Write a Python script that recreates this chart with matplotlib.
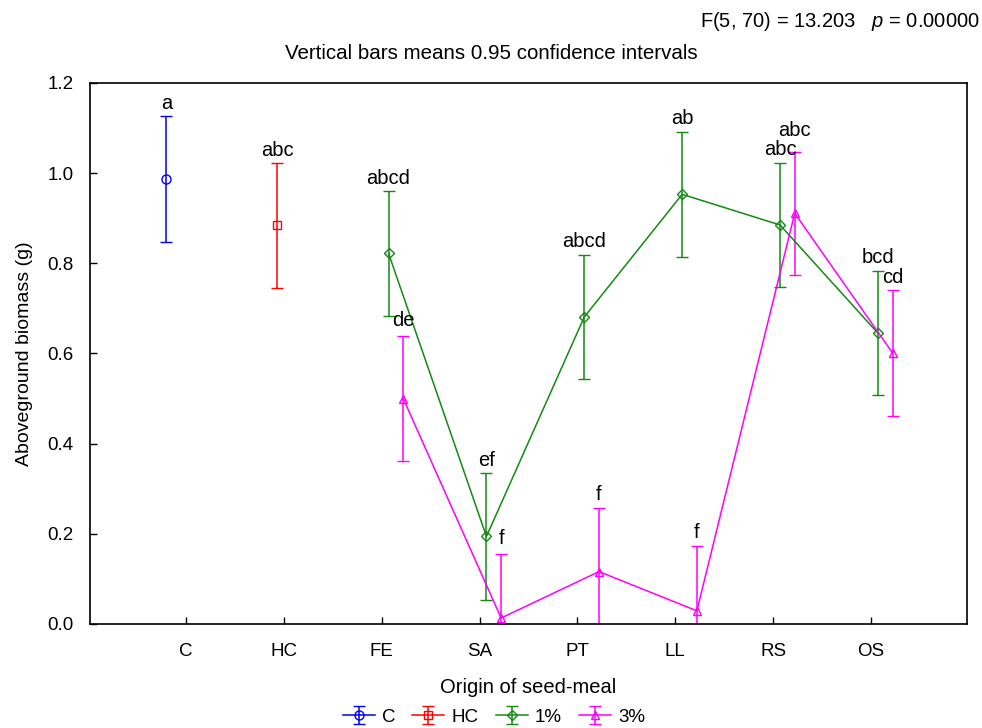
import matplotlib
matplotlib.use("Agg")
import matplotlib.pyplot as plt
import numpy as np

plt.rcParams['font.family'] = ['Liberation Sans', 'DejaVu Sans']
plt.rcParams['mathtext.fontset'] = 'custom'
plt.rcParams['mathtext.it'] = 'Liberation Sans:italic'
plt.rcParams['mathtext.rm'] = 'Liberation Sans'

# categories on the x axis
categories = ['C', 'HC', 'FE', 'SA', 'PT', 'LL', 'RS', 'OS']

# controls (single points)
c_mean, c_ci = [0.987], [0.139]
hc_mean, hc_ci = [0.884], [0.138]

# seed-meal treatments (FE..OS)
pct1_mean = [0.822, 0.194, 0.681, 0.953, 0.885, 0.645]
pct1_ci = [0.138, 0.140, 0.138, 0.139, 0.138, 0.138]
pct3_mean = [0.500, 0.013, 0.116, 0.029, 0.911, 0.601]
pct3_ci = [0.138, 0.142, 0.142, 0.144, 0.137, 0.139]

# letters of homogeneous groups
c_letters = ['a']
hc_letters = ['abc']
pct1_letters = ['abcd', 'ef', 'abcd', 'ab', 'abc', 'bcd']
pct3_letters = ['de', 'f', 'f', 'f', 'abc', 'cd']

fig = plt.figure(figsize=(9.82, 7.28), dpi=100)
ax = fig.add_axes([0.0917, 0.143, 0.893, 0.743])

x = np.arange(1, len(categories) + 1)
x_c = x[:1] - 0.20
x_hc = x[1:2] - 0.07
x_1 = x[2:] + 0.07
x_3 = x[2:] + 0.22

common = dict(capsize=4, elinewidth=1.1, linewidth=1.1, capthick=1.1,
              markerfacecolor='none', markeredgewidth=1.0)
eb_c = ax.errorbar(x_c, c_mean, yerr=c_ci, color='#0000ff', marker='o',
                   markersize=6.5, label='C', **common)
eb_hc = ax.errorbar(x_hc, hc_mean, yerr=hc_ci, color='#ff0000', marker='s',
                    markersize=6, label='HC', **common)
eb_1 = ax.errorbar(x_1, pct1_mean, yerr=pct1_ci, color='#138a13', marker='D',
                   markersize=5, label='1%', **common)
eb_3 = ax.errorbar(x_3, pct3_mean, yerr=pct3_ci, color='#ff00ff', marker='^',
                   markersize=6, label='3%', **common)

# group letters above upper CI (extra lift in points where the original sits higher)
def add_letters(xs, means, cis, letters, lifts=None):
    if lifts is None:
        lifts = [0] * len(letters)
    for xi, m, c, t, dy in zip(xs, means, cis, letters, lifts):
        ax.annotate(t, xy=(xi, m + c), xytext=(0, 2.5 + dy), textcoords='offset points',
                    ha='center', va='bottom', fontsize=14.5, annotation_clip=False)

add_letters(x_c, c_mean, c_ci, c_letters)
add_letters(x_hc, hc_mean, hc_ci, hc_letters)
add_letters(x_1, pct1_mean, pct1_ci, pct1_letters)
add_letters(x_3, pct3_mean, pct3_ci, pct3_letters, lifts=[2, 2, 0, 0, 6, 0])

ax.set_xlim(0.02, 8.98)
ax.set_ylim(0, 1.2)
ax.set_xticks(x)
ax.set_xticklabels(categories)
ax.set_yticks(np.arange(0, 1.21, 0.2))
ax.set_yticklabels([f'{v:.1f}' for v in np.arange(0, 1.21, 0.2)])
ax.tick_params(direction='in', length=5, width=1, labelsize=13.5, top=False, right=False)
ax.tick_params(axis='x', pad=14)
ax.tick_params(axis='y', pad=12)
for s in ax.spines.values():
    s.set_linewidth(1.2)

ax.set_xlabel('Origin of seed-meal', fontsize=14.5, labelpad=13)
ax.set_ylabel('Aboveground biomass (g)', fontsize=14, labelpad=10)

fig.text(0.5, 0.927, 'Vertical bars means 0.95 confidence intervals',
         ha='center', va='center', fontsize=14.8)
fig.text(0.998, 0.97, 'F(5, 70) = 13.203   $p$ = 0.00000',
         ha='right', va='center', fontsize=14.5)

fig.legend(handles=[eb_c, eb_hc, eb_1, eb_3], loc='lower center',
           bbox_to_anchor=(0.503, -0.02), ncol=4, frameon=False, fontsize=13.5,
           handlelength=1.7, columnspacing=0.9, handletextpad=0.4)

fig.savefig('out.png', dpi=100)
